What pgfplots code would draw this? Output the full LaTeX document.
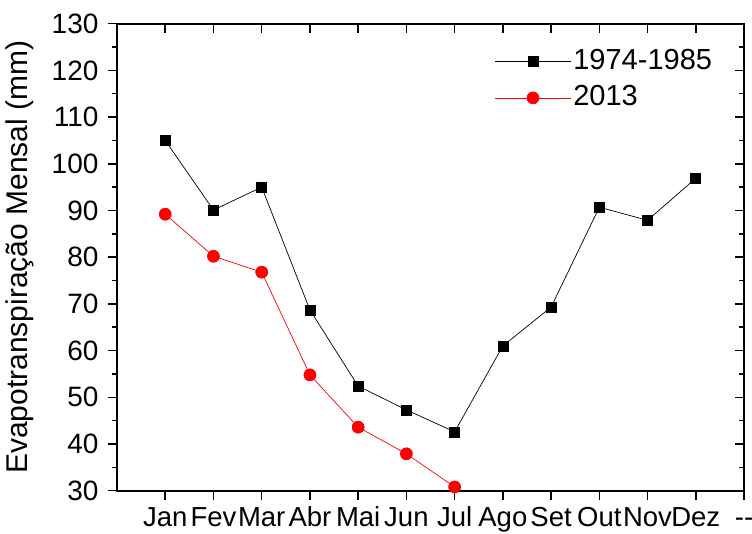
\documentclass[border=0pt]{standalone}
\usepackage{fontspec}
\setmainfont{Liberation Sans}
\usepackage{pgfplots}
\pgfplotsset{compat=1.18}
\begin{document}
\fontsize{28}{32}\selectfont
\begin{tikzpicture}
\path[use as bounding box] (0,0) rectangle (752pt,534pt);
\pgfplotsset{
  common/.style={
    at={(117pt,43.3pt)}, anchor=south west,
    scale only axis, width=627pt, height=467pt,
    xmin=0, xmax=13, ymin=30, ymax=130,
    xtick={1,...,13}, ytick={30,40,...,130},
    minor y tick num=1,
    axis line style={line width=1.8pt},
    every tick/.style={line width=1.5pt, black},
    major tick length=9pt, minor tick length=5pt,
  }
}
\begin{axis}[common,
  tick align=outside, xtick pos=bottom, ytick pos=left,
  xticklabels={Jan,Fev,Mar,Abr,Mai,Jun,Jul,Ago,Set,Out,Nov,Dez,{-{}-}},
  /pgf/number format/assume math mode=true,
  tick label style={font=\fontsize{28}{32}\selectfont},
  xticklabel style={font=\fontsize{27.5}{31}\selectfont, text height=20pt, text depth=0pt, yshift=3pt},
  ylabel={Evapotranspiração Mensal (mm)},
  ylabel style={font=\fontsize{30}{34}\selectfont, yshift=-1pt},
  legend style={draw=none, fill=none, at={(0.602,0.95)}, anchor=north west,
    font=\fontsize{29}{33}\selectfont, row sep=8pt, inner sep=0pt},
  legend cell align=left,
  legend image code/.code={\draw[#1, mark repeat=2, mark phase=2] plot coordinates {(0pt,0pt) (38pt,0pt) (76pt,0pt)};},
]
\addplot[black, line width=0.7pt, mark=square*, mark size=5pt, mark options={solid}] coordinates {
(1,105.0) (2,90.1) (3,95.0) (4,68.7) (5,52.4) (6,47.3) (7,42.6) (8,61.0) (9,69.3) (10,90.7) (11,87.9) (12,96.9)};
\addlegendentry{1974-1985}
\addplot[red, line width=0.7pt, mark=*, mark size=6pt, mark options={solid, fill=red}] coordinates {
(1,89.2) (2,80.2) (3,76.8) (4,54.8) (5,43.6) (6,37.9) (7,30.8)};
\addlegendentry{2013}
\end{axis}
\begin{axis}[common,
  tick align=inside, xtick pos=top, ytick pos=right,
  xticklabels={}, yticklabels={},
  axis line style={draw=none},
]
\end{axis}
\end{tikzpicture}
\end{document}
